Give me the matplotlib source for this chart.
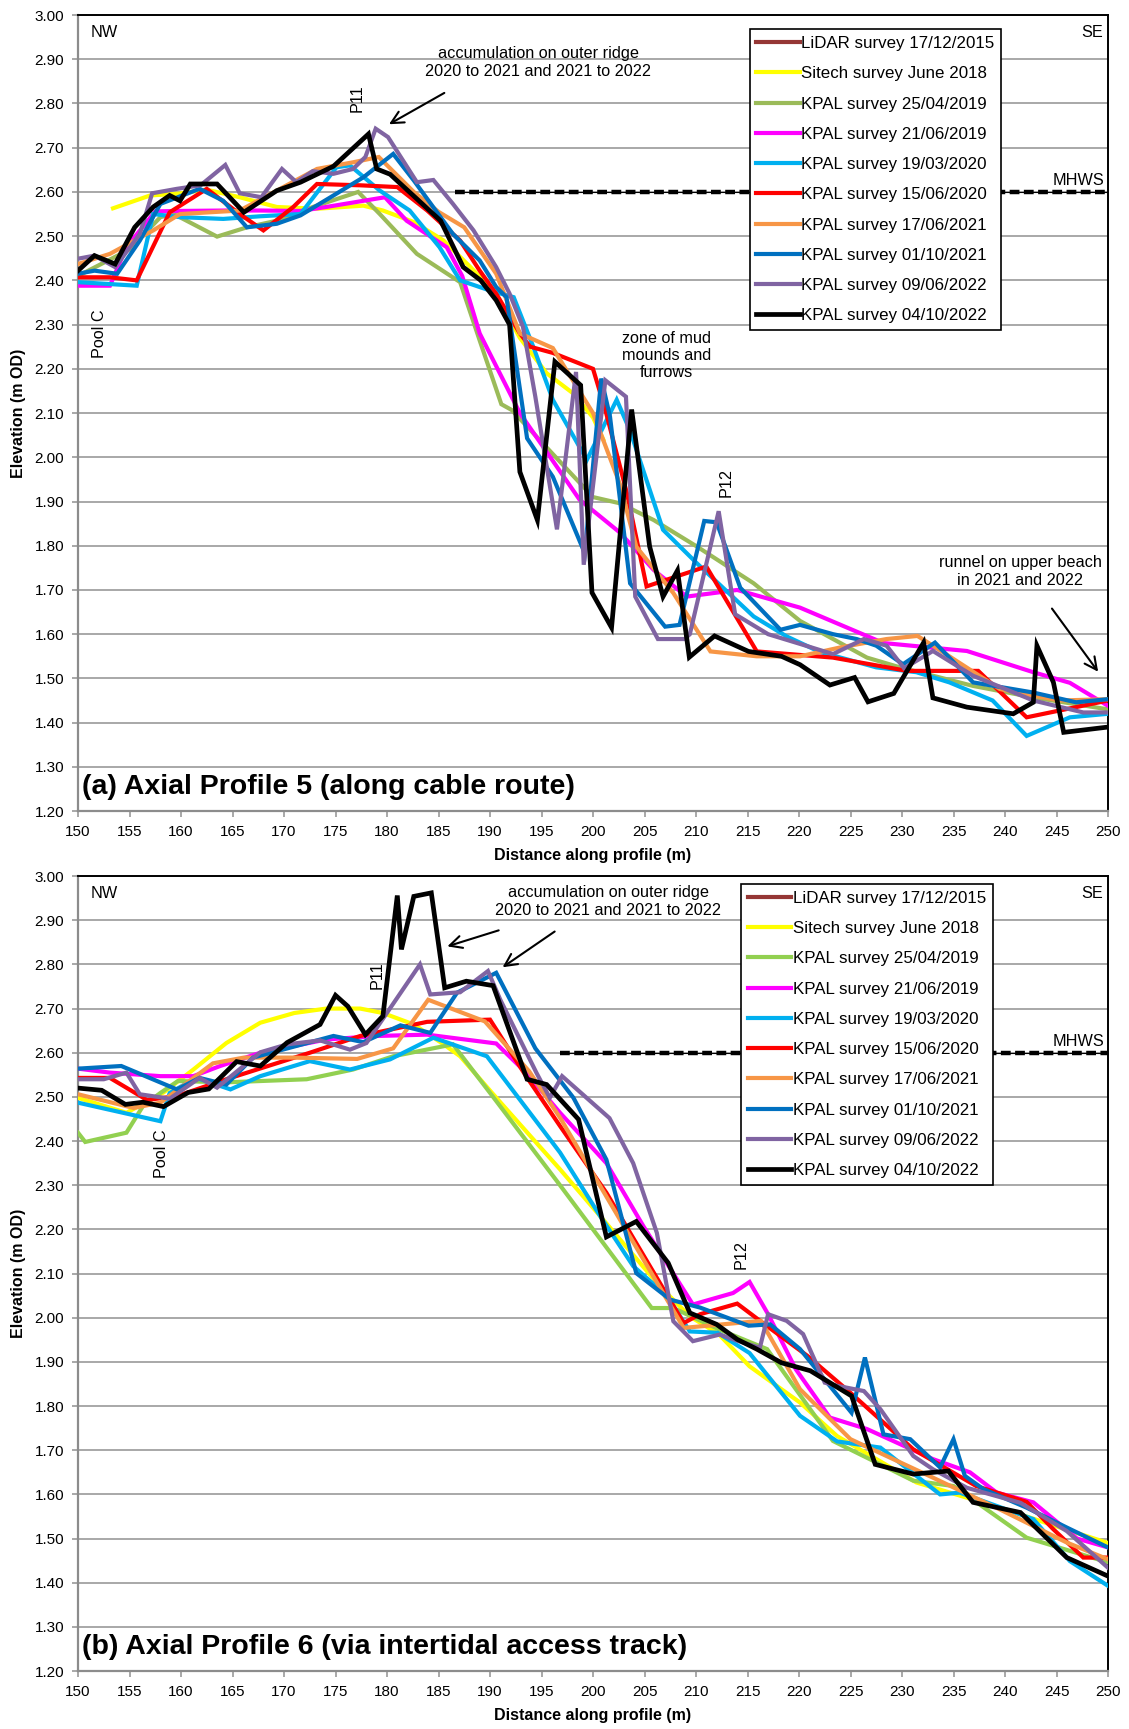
import matplotlib
matplotlib.use('Agg')
import matplotlib.pyplot as plt

plt.rcParams['font.family'] = ['Liberation Sans', 'DejaVu Sans']

series_names = ['LiDAR survey 17/12/2015', 'Sitech survey June 2018', 'KPAL survey 25/04/2019',
                'KPAL survey 21/06/2019', 'KPAL survey 19/03/2020', 'KPAL survey 15/06/2020',
                'KPAL survey 17/06/2021', 'KPAL survey 01/10/2021', 'KPAL survey 09/06/2022',
                'KPAL survey 04/10/2022']
colors_a = ['#953735', '#FFFF00', '#9BBB59', '#FF00FF', '#00B0F0', '#FF0000',
            '#F79646', '#0070C0', '#8064A2', '#000000']
colors_b = ['#953735', '#FFFF00', '#92D050', '#FF00FF', '#00B0F0', '#FF0000',
            '#F79646', '#0070C0', '#8064A2', '#000000']

# ---- Profile 5 (a) ----
p5_lidar_x = []
p5_lidar_y = []
p5_sitech_x = [153.4, 157.0, 159.7, 162.5, 165.7, 169.3, 173.2, 177.7, 179.6, 182.6, 185.5, 188.1,
               190.6, 192.9, 195.5, 198.1, 200.0, 201.0]
p5_sitech_y = [2.563, 2.592, 2.596, 2.605, 2.588, 2.566, 2.562, 2.569, 2.558, 2.532, 2.490, 2.430,
               2.370, 2.270, 2.190, 2.144, 2.090, 2.040]
p5_k1904_x = [150, 155, 158.0, 159.3, 163.5, 166.4, 169.3, 172.8, 177.2, 179.3, 182.9, 187.1, 189.0,
              191.1, 192.1, 200.0, 202.6, 205.9, 210.1, 215.6, 220.1, 226.6, 229.8, 236.9, 242.75, 250]
p5_k1904_y = [2.41, 2.47, 2.543, 2.55, 2.499, 2.52, 2.535, 2.566, 2.60, 2.55, 2.46, 2.396, 2.264,
              2.12, 2.107, 1.91, 1.896, 1.858, 1.798, 1.715, 1.63, 1.547, 1.525, 1.483, 1.457, 1.43]
p5_k1906_x = [150, 153.1, 154.7, 157.5, 159.9, 164.4, 167.7, 171.6, 174.1, 179.8, 181.9, 185.8, 187.3,
              189.0, 192.9, 198.7, 202.6, 205.9, 209.1, 214.0, 220.1, 228.2, 236.3, 242.75, 246.3, 250]
p5_k1906_y = [2.388, 2.388, 2.475, 2.556, 2.557, 2.558, 2.558, 2.557, 2.566, 2.588, 2.535, 2.475, 2.41,
              2.28, 2.10, 1.904, 1.83, 1.745, 1.685, 1.70, 1.66, 1.58, 1.562, 1.514, 1.49, 1.438]
p5_k2003_x = [150, 155.7, 157.3, 159.9, 164.1, 167.7, 171.6, 175.1, 176.4, 179.3, 182.2, 185.1, 187.1,
              190.0, 192.3, 194.2, 196.1, 199.4, 202.3, 203.6, 206.8, 210.1, 215.6, 218.8, 222.0, 227.5,
              231.4, 234.6, 238.8, 242.1, 246.3, 250]
p5_k2003_y = [2.396, 2.388, 2.55, 2.543, 2.539, 2.545, 2.55, 2.656, 2.66, 2.603, 2.558, 2.475, 2.40,
              2.377, 2.362, 2.25, 2.13, 1.994, 2.13, 2.06, 1.836, 1.76, 1.64, 1.595, 1.56, 1.525,
              1.514, 1.491, 1.45, 1.37, 1.412, 1.42]
p5_k2006_x = [150, 153.1, 155.7, 158.9, 162.5, 165.7, 168.0, 170.9, 173.2, 177.4, 181.0, 183.9, 187.1,
              189.0, 190.6, 192.9, 193.9, 196.1, 200.0, 201.2, 203.3, 205.2, 211.0, 215.9, 223.3, 230.5,
              237.4, 242.1, 250]
p5_k2006_y = [2.407, 2.407, 2.40, 2.554, 2.607, 2.55, 2.513, 2.566, 2.618, 2.615, 2.611, 2.558, 2.49,
              2.422, 2.37, 2.28, 2.25, 2.236, 2.20, 2.107, 1.918, 1.708, 1.753, 1.561, 1.547, 1.517,
              1.517, 1.412, 1.45]
p5_k2106_x = [150, 153.1, 157.3, 159.9, 165.7, 169.3, 173.2, 176.7, 179.2, 182.6, 185.0, 187.5, 190.6,
              192.9, 196.1, 200.0, 202.6, 204.2, 207.8, 211.4, 215.9, 220.1, 224.0, 228.5, 231.5, 233.0,
              239.5, 245.3, 250]
p5_k2106_y = [2.437, 2.46, 2.513, 2.55, 2.558, 2.603, 2.652, 2.667, 2.679, 2.60, 2.555, 2.52, 2.415,
              2.28, 2.247, 2.10, 1.94, 1.798, 1.693, 1.561, 1.55, 1.55, 1.57, 1.589, 1.596, 1.574,
              1.476, 1.45, 1.453]
p5_k2110_x = [150, 151.6, 153.8, 156.0, 158.0, 161.8, 164.1, 166.4, 169.3, 171.6, 174.8, 177.7, 180.6,
              182.6, 185.2, 186.4, 189.0, 190.6, 191.6, 193.6, 196.1, 199.2, 200.8, 201.65, 203.6, 207.0,
              208.4, 210.8, 212.0, 214.3, 218.2, 220.1, 223.3, 225.6, 227.5, 230.1, 233.2, 236.9, 242.75,
              246.9, 250]
p5_k2110_y = [2.415, 2.422, 2.415, 2.49, 2.573, 2.607, 2.58, 2.52, 2.528, 2.547, 2.592, 2.633, 2.686,
              2.626, 2.543, 2.505, 2.445, 2.385, 2.362, 2.043, 1.956, 1.783, 2.178, 2.092, 1.715, 1.617,
              1.621, 1.856, 1.853, 1.705, 1.61, 1.621, 1.60, 1.589, 1.574, 1.532, 1.581, 1.491, 1.468,
              1.446, 1.453]
p5_k2206_x = [150, 151.6, 153.6, 156.0, 157.2, 159.6, 161.9, 164.3, 165.7, 167.8, 169.8, 171.2, 172.8,
              174.8, 176.7, 177.9, 178.9, 180.1, 182.9, 184.5, 186.4, 188.4, 190.6, 191.9, 193.2, 194.4,
              196.5, 198.35, 199.1, 201.2, 203.2, 204.1, 206.3, 208.9, 209.4, 212.2, 213.8, 217.0, 220.1,
              223.3, 226.3, 228.5, 230.2, 233.0, 236.9, 242.75, 247.6, 250]
p5_k2206_y = [2.449, 2.456, 2.43, 2.505, 2.597, 2.607, 2.615, 2.661, 2.597, 2.588, 2.652, 2.622, 2.647,
              2.641, 2.652, 2.679, 2.743, 2.724, 2.622, 2.627, 2.573, 2.513, 2.43, 2.37, 2.295, 2.137,
              1.837, 2.193, 1.757, 2.174, 2.137, 1.685, 1.589, 1.589, 1.60, 1.878, 1.645, 1.60, 1.578,
              1.555, 1.589, 1.574, 1.523, 1.562, 1.506, 1.45, 1.423, 1.423]
p5_k2210_x = [150, 151.6, 153.6, 155.5, 157.3, 158.9, 159.9, 160.9, 163.5, 166.1, 169.3, 171.6, 174.8,
              178.2, 179.0, 180.3, 185.2, 187.4, 189.1, 190.6, 191.9, 192.9, 194.6, 196.3, 198.8, 199.9,
              201.8, 203.75, 205.5, 206.8, 208.2, 209.35, 211.8, 215.1, 218.3, 220.1, 223.0, 225.4, 226.7,
              229.2, 232.1, 233.0, 236.3, 240.8, 242.75, 243.1, 244.7, 245.7, 250]
p5_k2210_y = [2.422, 2.456, 2.437, 2.52, 2.566, 2.592, 2.58, 2.618, 2.618, 2.554, 2.603, 2.622, 2.658,
              2.731, 2.652, 2.64, 2.535, 2.43, 2.40, 2.355, 2.30, 1.967, 1.858, 2.216, 2.163, 1.694,
              1.615, 2.108, 1.798, 1.685, 1.744, 1.548, 1.596, 1.561, 1.55, 1.531, 1.485, 1.502, 1.447,
              1.466, 1.581, 1.456, 1.435, 1.42, 1.446, 1.574, 1.491, 1.378, 1.39]

# ---- Profile 6 (b) ----
p6_lidar_x = []
p6_lidar_y = []
p6_sitech_x = [150, 154.7, 158.3, 161.2, 164.4, 167.7, 171.0, 174.1, 177.4, 179.6, 182.6, 185.5, 187.1,
               190.2, 194.2, 196.8, 200.7, 206.5, 209.4, 212.2, 215.2, 220.1, 223.7, 231.4, 239.5, 246.0, 250]
p6_sitech_y = [2.498, 2.464, 2.51, 2.562, 2.622, 2.668, 2.69, 2.70, 2.70, 2.69, 2.664, 2.619, 2.592,
               2.509, 2.404, 2.336, 2.23, 2.071, 2.003, 1.963, 1.89, 1.808, 1.732, 1.627, 1.57, 1.52, 1.49]
p6_k1904_x = [150, 150.7, 154.7, 156.3, 158.0, 159.7, 164.4, 172.2, 176.7, 180.6, 186.4, 190.3, 196.8,
              205.7, 207.8, 212.3, 216.9, 223.3, 231.1, 235.0, 242.1, 250]
p6_k1904_y = [2.419, 2.398, 2.419, 2.479, 2.509, 2.536, 2.533, 2.54, 2.562, 2.592, 2.619, 2.50, 2.30,
              2.022, 2.022, 1.973, 1.929, 1.721, 1.631, 1.619, 1.502, 1.446]
p6_k1906_x = [150, 153.1, 158.0, 161.2, 163.8, 167.7, 174.1, 179.0, 183.9, 190.6, 193.5, 196.8, 201.3,
              204.9, 209.7, 213.6, 215.2, 217.0, 219.7, 223.0, 226.6, 233.0, 236.6, 239.2, 242.75, 247.0, 250]
p6_k1906_y = [2.564, 2.555, 2.547, 2.547, 2.57, 2.60, 2.63, 2.638, 2.641, 2.621, 2.555, 2.464, 2.35,
              2.207, 2.03, 2.056, 2.081, 2.008, 1.883, 1.774, 1.748, 1.68, 1.65, 1.604, 1.582, 1.50, 1.48]
p6_k2003_x = [150, 158.0, 158.9, 161.5, 164.8, 167.7, 172.5, 176.4, 180.3, 184.5, 189.7, 196.8, 200.7,
              203.9, 207.2, 209.4, 212.1, 215.2, 220.1, 223.7, 227.9, 233.7, 235.6, 242.75, 246.3, 250]
p6_k2003_y = [2.487, 2.445, 2.509, 2.543, 2.517, 2.547, 2.581, 2.562, 2.585, 2.634, 2.592, 2.374, 2.23,
              2.117, 2.049, 1.969, 1.966, 1.92, 1.778, 1.72, 1.706, 1.60, 1.604, 1.544, 1.449, 1.393]
p6_k2006_x = [150, 153.1, 156.7, 159.6, 164.4, 172.5, 177.4, 183.9, 190.0, 193.5, 196.8, 201.3, 208.8,
              210.4, 214.0, 216.9, 220.8, 225.0, 231.1, 237.2, 242.1, 244.7, 247.6, 250]
p6_k2006_y = [2.543, 2.543, 2.493, 2.502, 2.54, 2.60, 2.638, 2.67, 2.675, 2.547, 2.434, 2.283, 1.988,
              2.008, 2.032, 1.981, 1.914, 1.83, 1.702, 1.619, 1.583, 1.521, 1.457, 1.457]
p6_k2106_x = [150, 155.4, 158.0, 163.1, 166.1, 170.9, 177.1, 180.6, 184.0, 189.5, 193.8, 196.8, 208.8,
              216.3, 220.1, 225.0, 233.0, 239.5, 246.0, 250]
p6_k2106_y = [2.506, 2.475, 2.487, 2.576, 2.589, 2.589, 2.586, 2.61, 2.72, 2.671, 2.558, 2.453, 1.977,
              1.993, 1.838, 1.725, 1.638, 1.566, 1.491, 1.453]
p6_k2110_x = [150, 154.2, 159.6, 161.8, 164.4, 167.0, 174.8, 177.7, 181.3, 184.2, 186.8, 190.6, 194.4,
              198.1, 201.3, 204.2, 207.5, 210.4, 215.1, 217.2, 220.1, 225.1, 226.4, 228.2, 230.8, 233.7,
              235.0, 236.1, 237.9, 242.1, 246.0, 250]
p6_k2110_y = [2.564, 2.57, 2.517, 2.543, 2.528, 2.589, 2.638, 2.624, 2.662, 2.645, 2.736, 2.781, 2.61,
              2.498, 2.358, 2.101, 2.041, 2.023, 1.982, 1.985, 1.929, 1.785, 1.91, 1.736, 1.725, 1.661,
              1.725, 1.642, 1.612, 1.57, 1.525, 1.48]
p6_k2206_x = [150, 152.5, 154.7, 156.0, 158.9, 161.8, 163.5, 167.7, 170.3, 173.5, 176.4, 178.0, 183.2,
              184.2, 187.1, 189.8, 191.0, 194.5, 195.8, 197.0, 201.6, 203.9, 206.2, 207.8, 209.7, 212.3,
              214.0, 216.2, 217.0, 218.8, 220.4, 222.5, 223.7, 226.3, 227.9, 231.1, 233.0, 236.3, 241.5,
              246.0, 250]
p6_k2206_y = [2.54, 2.54, 2.555, 2.506, 2.496, 2.543, 2.521, 2.601, 2.619, 2.628, 2.607, 2.622, 2.80,
              2.732, 2.737, 2.785, 2.72, 2.555, 2.498, 2.547, 2.452, 2.35, 2.192, 1.992, 1.947, 1.962,
              1.948, 1.932, 2.008, 1.993, 1.963, 1.853, 1.846, 1.834, 1.793, 1.687, 1.657, 1.615, 1.581,
              1.517, 1.434]
p6_k2210_x = [150, 152.3, 154.6, 156.3, 158.3, 160.7, 162.7, 165.4, 167.7, 170.3, 173.5, 175.0, 176.2,
              177.9, 179.6, 181.0, 181.4, 182.6, 184.3, 185.6, 187.7, 190.3, 193.6, 195.5, 198.6, 201.3,
              204.2, 207.3, 209.4, 212.0, 214.0, 215.9, 218.3, 221.1, 225.1, 227.4, 231.1, 234.5, 236.9,
              241.5, 246.0, 250]
p6_k2210_y = [2.52, 2.515, 2.483, 2.488, 2.478, 2.51, 2.518, 2.58, 2.57, 2.623, 2.664, 2.73, 2.705,
              2.641, 2.683, 2.956, 2.834, 2.954, 2.962, 2.747, 2.762, 2.752, 2.54, 2.528, 2.449, 2.183,
              2.218, 2.124, 2.011, 1.985, 1.951, 1.929, 1.898, 1.88, 1.823, 1.668, 1.646, 1.653, 1.582,
              1.559, 1.457, 1.415]

p5_series = [(p5_lidar_x, p5_lidar_y), (p5_sitech_x, p5_sitech_y), (p5_k1904_x, p5_k1904_y),
             (p5_k1906_x, p5_k1906_y), (p5_k2003_x, p5_k2003_y), (p5_k2006_x, p5_k2006_y),
             (p5_k2106_x, p5_k2106_y), (p5_k2110_x, p5_k2110_y), (p5_k2206_x, p5_k2206_y),
             (p5_k2210_x, p5_k2210_y)]
p6_series = [(p6_lidar_x, p6_lidar_y), (p6_sitech_x, p6_sitech_y), (p6_k1904_x, p6_k1904_y),
             (p6_k1906_x, p6_k1906_y), (p6_k2003_x, p6_k2003_y), (p6_k2006_x, p6_k2006_y),
             (p6_k2106_x, p6_k2106_y), (p6_k2110_x, p6_k2110_y), (p6_k2206_x, p6_k2206_y),
             (p6_k2210_x, p6_k2210_y)]

mhws = 2.60
x_ticks = list(range(150, 251, 5))
y_ticks = [1.2 + 0.1 * i for i in range(19)]

FS = 11.7
GRID = '#9a9a9a'


def draw_panel(ax, series, colors, title, mhws_start, legend_x, legend_y):
    for i, (xs, ys) in enumerate(series):
        lw = 3.4 if i == len(series) - 1 else 3.0
        ax.plot(xs, ys, color=colors[i], lw=lw, label=series_names[i],
                solid_joinstyle='miter', zorder=3 + i * 0.1)
    # MHWS line
    ax.plot([mhws_start, 250], [mhws, mhws], color='black', lw=0.8, zorder=2.5)
    ax.plot([mhws_start, 250], [mhws, mhws], color='black', lw=3.2, dashes=(2.2, 1.0), zorder=2.6)
    ax.text(247.1, 2.626, 'MHWS', fontsize=FS, ha='center', va='center', zorder=6)

    ax.set_xlim(150, 250)
    ax.set_ylim(1.2, 3.0)
    ax.set_xticks(x_ticks)
    ax.set_yticks(y_ticks)
    ax.set_yticklabels(['%.2f' % v for v in y_ticks])
    ax.tick_params(axis='both', labelsize=11, direction='out', length=4, width=1.2,
                   color=GRID, pad=6)
    ax.yaxis.grid(True, color=GRID, lw=1.2)
    ax.set_axisbelow(True)
    for s in ['left', 'bottom']:
        ax.spines[s].set_color('#8c8c8c')
        ax.spines[s].set_linewidth(1.6)
    for s in ['top', 'right']:
        ax.spines[s].set_color('black')
        ax.spines[s].set_linewidth(1.4)

    ax.set_xlabel('Distance along profile (m)', fontsize=11.5, fontweight='bold')
    ax.set_ylabel('Elevation (m OD)', fontsize=11.5, fontweight='bold')
    ax.xaxis.set_label_coords(0.5, -0.0465)
    ax.yaxis.set_label_coords(-0.0505, 0.5)

    ax.text(0.012, 0.987, 'NW', transform=ax.transAxes, fontsize=FS, ha='left', va='top')
    ax.text(0.9947, 0.987, 'SE', transform=ax.transAxes, fontsize=FS, ha='right', va='top')
    ax.text(150.4, 1.255, title, fontsize=20.5, fontweight='bold', ha='left', va='center', zorder=6)

    leg = ax.legend(loc='upper left', bbox_to_anchor=(legend_x, legend_y), fontsize=12.2,
                    frameon=True, fancybox=False, edgecolor='black', framealpha=1,
                    handlelength=2.55, handletextpad=0.1, labelspacing=0.9, borderpad=0.4,
                    borderaxespad=0)
    leg.get_frame().set_linewidth(1.2)
    leg.set_zorder(10)


fig = plt.figure(figsize=(11.29, 17.29), dpi=100)
ax1 = fig.add_axes([0.0691, 0.5309, 0.9123, 0.4604])
ax2 = fig.add_axes([0.0691, 0.0335, 0.9123, 0.4598])

draw_panel(ax1, p5_series, colors_a, '(a) Axial Profile 5 (along cable route)', 186.6, 0.652, 0.982)
draw_panel(ax2, p6_series, colors_b, '(b) Axial Profile 6 (via intertidal access track)', 196.8,
           0.644, 0.99)

arrow = dict(arrowstyle='->', color='black', lw=1.5, mutation_scale=22)

# panel (a) notes
ax1.text(177.06, 2.811, 'P11', rotation=90, fontsize=FS, ha='center', va='center')
ax1.text(152.06, 2.28, 'Pool C', rotation=90, fontsize=FS, ha='center', va='center')
ax1.text(212.9, 1.942, 'P12', rotation=90, fontsize=FS, ha='center', va='center')
ax1.text(194.7, 2.892, 'accumulation on outer ridge\n2020 to 2021 and 2021 to 2022',
         fontsize=FS, ha='center', va='center', linespacing=1.25)
ax1.annotate('', xy=(179.96, 2.750), xytext=(185.8, 2.827), arrowprops=arrow)
ax1.text(207.15, 2.23, 'zone of mud\nmounds and\nfurrows', fontsize=FS, ha='center',
         va='center', linespacing=1.2)
ax1.text(241.5, 1.742, 'runnel on upper beach\nin 2021 and 2022', fontsize=FS, ha='center',
         va='center', linespacing=1.25)
ax1.annotate('', xy=(249.2, 1.51), xytext=(244.4, 1.663), arrowprops=arrow)

# panel (b) notes
ax2.text(179.0, 2.775, 'P11', rotation=90, fontsize=FS, ha='center', va='center')
ax2.text(158.1, 2.372, 'Pool C', rotation=90, fontsize=FS, ha='center', va='center')
ax2.text(214.4, 2.144, 'P12', rotation=90, fontsize=FS, ha='center', va='center')
ax2.text(201.5, 2.943, 'accumulation on outer ridge\n2020 to 2021 and 2021 to 2022',
         fontsize=FS, ha='center', va='center', linespacing=1.25)
ax2.annotate('', xy=(185.6, 2.839), xytext=(191.1, 2.879), arrowprops=arrow)
ax2.annotate('', xy=(191.0, 2.79), xytext=(196.5, 2.878), arrowprops=arrow)

fig.savefig('out.png', dpi=100)
